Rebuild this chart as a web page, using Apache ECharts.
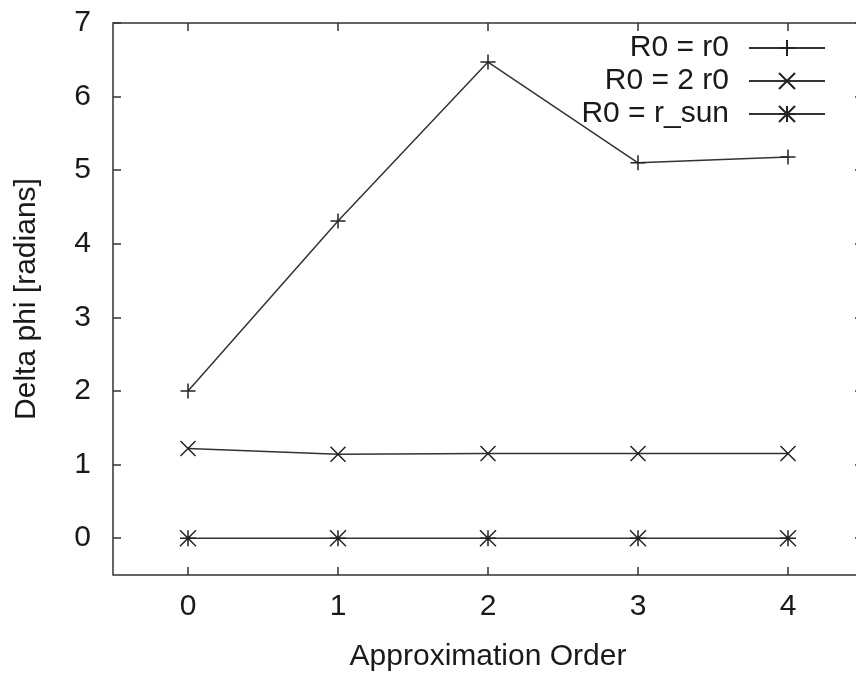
<!DOCTYPE html>
<html>
<head>
<meta charset="utf-8">
<script src="https://cdn.jsdelivr.net/npm/echarts@6/dist/echarts.min.js"></script>
<style>
  html, body { margin: 0; padding: 0; background: #fff; }
  #chart { width: 856px; height: 677px; }
</style>
</head>
<body>
<div id="chart"></div>
<script>
// data
const orders = [0, 1, 2, 3, 4];
const r0Values = [2.0, 4.31, 6.47, 5.1, 5.18];
const twoR0Values = [1.22, 1.14, 1.15, 1.15, 1.15];
const rSunValues = [0, 0, 0, 0, 0];
const xTicks = [0, 1, 2, 3, 4];
const yTicks = [0, 1, 2, 3, 4, 5, 6, 7];

const FONT = "Liberation Sans, Arial, sans-serif";
const INK = "#1a1a1a";

const plusPath = "path://M0,5L10,5M5,0L5,10";
const crossPath = "path://M0,0L10,10M10,0L0,10";
const starPath = "path://M0,5L10,5M5,0L5,10M0,0L10,10M10,0L0,10";

const pairs = (vals) => orders.map((x, i) => [x, vals[i]]);

function lineSeries(name, vals, symbol, size) {
  return {
    name: name,
    type: "line",
    data: pairs(vals),
    symbol: symbol,
    symbolSize: size,
    showAllSymbol: true,
    lineStyle: { color: "#333", width: 1.5 },
    itemStyle: { color: "#000", borderColor: "#222", borderWidth: 1.5 },
    emphasis: { disabled: true },
    animation: false,
  };
}

const chart = echarts.init(document.getElementById("chart"));

const tickCommon = {
  show: true,
  inside: true,
  length: 8,
  lineStyle: { color: "#333", width: 1.5 },
};

chart.setOption({
  backgroundColor: "#fff",
  animation: false,
  grid: {
    left: 113,
    top: 23,
    width: 750,
    height: 552,
    outerBoundsMode: "none",
    show: true,
    borderColor: "#333",
    borderWidth: 1.5,
    backgroundColor: "transparent",
  },
  legend: {
    orient: "vertical",
    right: 25,
    top: 28,
    align: "right",
    itemWidth: 76,
    itemHeight: 20,
    itemGap: 3,
    textStyle: {
      fontFamily: FONT,
      fontSize: 30,
      lineHeight: 30,
      color: INK,
      padding: [0, 15, 0, 0],
    },
    data: ["R0 = r0", "R0 = 2 r0", "R0 = r_sun"],
  },
  xAxis: [
    {
      type: "value",
      min: -0.5,
      max: 4.5,
      name: "Approximation Order",
      nameLocation: "middle",
      nameGap: 67,
      nameTextStyle: { fontFamily: FONT, fontSize: 30, color: INK },
      axisLine: { show: false, onZero: false },
      axisTick: Object.assign({ customValues: xTicks }, tickCommon),
      axisLabel: {
        customValues: xTicks,
        fontFamily: FONT,
        fontSize: 30,
        color: INK,
        margin: 17,
      },
      splitLine: { show: false },
    },
    {
      type: "value",
      position: "top",
      min: -0.5,
      max: 4.5,
      axisLine: { show: false, onZero: false },
      axisTick: Object.assign({ customValues: xTicks }, tickCommon),
      axisLabel: { show: false },
      splitLine: { show: false },
    },
  ],
  yAxis: [
    {
      type: "value",
      min: -0.5,
      max: 7,
      name: "Delta phi [radians]",
      nameLocation: "middle",
      nameGap: 71,
      nameTextStyle: { fontFamily: FONT, fontSize: 30, color: INK },
      axisLine: { show: false, onZero: false },
      axisTick: Object.assign({ customValues: yTicks }, tickCommon),
      axisLabel: {
        customValues: yTicks,
        fontFamily: FONT,
        fontSize: 30,
        color: INK,
        margin: 22,
      },
      splitLine: { show: false },
    },
    {
      type: "value",
      position: "right",
      min: -0.5,
      max: 7,
      axisLine: { show: false, onZero: false },
      axisTick: Object.assign({ customValues: yTicks }, tickCommon),
      axisLabel: { show: false },
      splitLine: { show: false },
    },
  ],
  series: [
    lineSeries("R0 = r0", r0Values, plusPath, 15),
    lineSeries("R0 = 2 r0", twoR0Values, crossPath, 15),
    lineSeries("R0 = r_sun", rSunValues, starPath, 16),
  ],
});
</script>
</body>
</html>
